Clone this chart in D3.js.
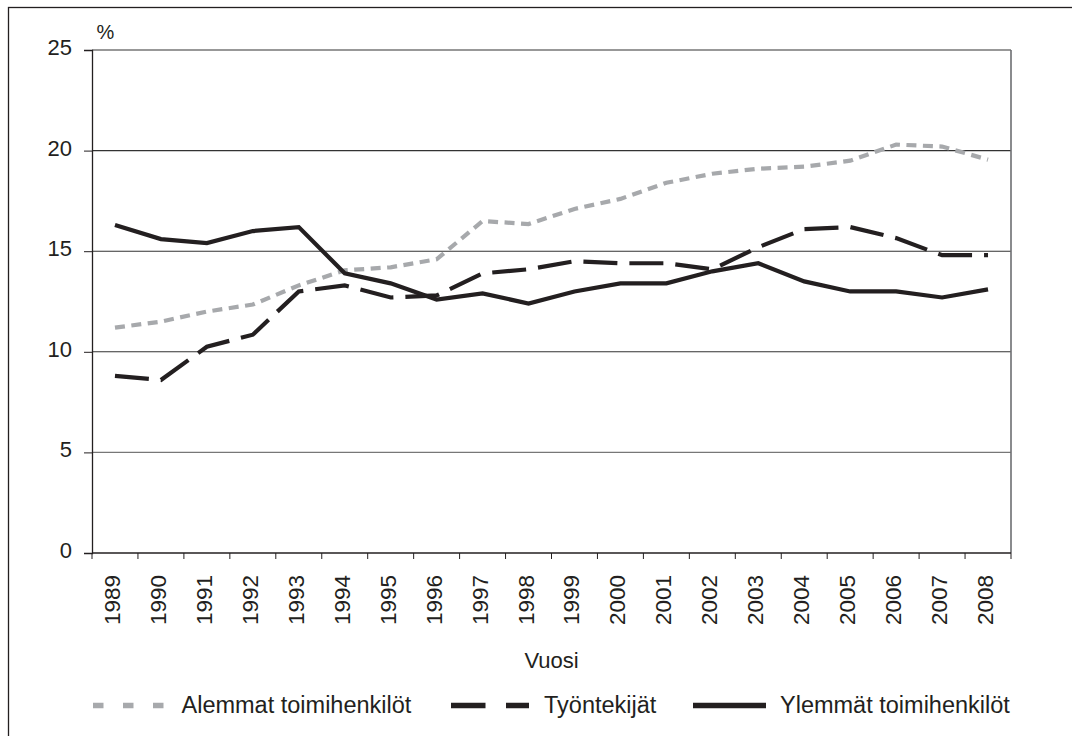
<!DOCTYPE html>
<html>
<head>
<meta charset="utf-8">
<script src="https://cdn.jsdelivr.net/npm/d3@7"></script>
<style>
  body { margin: 0; background: #fff; }
  text { font-family: "Liberation Sans", Arial, sans-serif; fill: #231f20; }
</style>
</head>
<body>
<svg id="chart" width="1072" height="736"></svg>
<script>
const years = ["1989","1990","1991","1992","1993","1994","1995","1996","1997","1998",
               "1999","2000","2001","2002","2003","2004","2005","2006","2007","2008"];
const alemmat = [11.2, 11.5, 12.0, 12.35, 13.3, 14.05, 14.2, 14.6, 16.5, 16.35,
                 17.1, 17.6, 18.4, 18.85, 19.1, 19.2, 19.5, 20.3, 20.2, 19.55];
const tyontekijat = [8.8, 8.6, 10.25, 10.85, 13.0, 13.3, 12.7, 12.8, 13.9, 14.1,
                     14.5, 14.4, 14.4, 14.1, 15.2, 16.1, 16.2, 15.65, 14.8, 14.8];
const ylemmat = [16.3, 15.6, 15.4, 16.0, 16.2, 13.9, 13.4, 12.6, 12.9, 12.4,
                 13.0, 13.4, 13.4, 14.0, 14.4, 13.5, 13.0, 13.0, 12.7, 13.1];
const yTicks = [0, 5, 10, 15, 20, 25];

const seriesNames = ["Alemmat toimihenkilöt", "Työntekijät", "Ylemmät toimihenkilöt"];

const margin = { left: 92, top: 50, right: 1011, bottom: 553 };

let svg = d3.select("#chart");

// outer frame (runs off the right and bottom edges)
svg.append("rect")
    .attr("x", 8.5).attr("y", 7.5)
    .attr("width", 1200).attr("height", 900)
    .attr("fill", "none").attr("stroke", "#231f20").attr("stroke-width", 1.3);

const x = d3.scaleBand().domain(years).range([margin.left, margin.right]);
const y = d3.scaleLinear().domain([0, 25]).range([margin.bottom, margin.top]);

// gridlines
svg.append("g")
    .selectAll("line")
    .data(yTicks.filter(d => d > 0))
    .join("line")
    .attr("x1", margin.left).attr("x2", margin.right)
    .attr("y1", d => y(d)).attr("y2", d => y(d))
    .attr("stroke", d => d == 5 ? "#777" : "#333")
    .attr("stroke-width", 1.1);

// right border of plot
svg.append("line")
    .attr("x1", margin.right).attr("x2", margin.right)
    .attr("y1", margin.top).attr("y2", margin.bottom)
    .attr("stroke", "#6d6e71").attr("stroke-width", 1.6);

// y axis
let yAxis = svg.append("g")
    .attr("transform", `translate(${margin.left},0)`)
    .call(d3.axisLeft(y).tickValues(yTicks).tickSize(8).tickPadding(12));
yAxis.select(".domain").attr("stroke", "#231f20").attr("stroke-width", 1.3);
yAxis.selectAll(".tick line").attr("stroke", "#231f20");
yAxis.selectAll("text")
    .attr("dy", "0.2em")
    .style("font-size", "22px")
    .style("font-family", "Liberation Sans, Arial, sans-serif")
    .attr("fill", "#231f20");

svg.append("text")
    .attr("x", 96.5).attr("y", 38.5)
    .style("font-size", "20px")
    .text("%");

// x axis: ticks at band boundaries
let xAxis = svg.append("g")
    .attr("transform", `translate(0,${margin.bottom})`);
xAxis.append("line")
    .attr("x1", margin.left).attr("x2", margin.right)
    .attr("stroke", "#231f20").attr("stroke-width", 1.3);
xAxis.selectAll(".tk")
    .data(years.concat(["end"]))
    .join("line")
    .attr("class", "tk")
    .attr("x1", (d, i) => margin.left + i * x.bandwidth())
    .attr("x2", (d, i) => margin.left + i * x.bandwidth())
    .attr("y1", 0).attr("y2", 6)
    .attr("stroke", "#231f20");
xAxis.selectAll(".lbl")
    .data(years)
    .join("text")
    .attr("class", "lbl")
    .attr("transform", d => `translate(${x(d) + x.bandwidth() / 2 + 5},22) rotate(-90)`)
    .attr("text-anchor", "end")
    .style("font-size", "22.5px")
    .text(d => d);

svg.append("text")
    .attr("x", (margin.left + margin.right) / 2).attr("y", 668)
    .attr("text-anchor", "middle")
    .style("font-size", "22px")
    .text("Vuosi");

// lines
const styles = [
    { data: alemmat, color: "#a7a9ac", dash: "10,6.5", width: 4.2 },
    { data: tyontekijat, color: "#231f20", dash: "34,12", width: 4.2 },
    { data: ylemmat, color: "#231f20", dash: null, width: 4.2 }
];

const line = d3.line()
    .x((d, i) => x(years[i]) + x.bandwidth() / 2)
    .y(d => y(d));

svg.append("g")
    .selectAll("path")
    .data(styles)
    .join("path")
    .attr("d", d => line(d.data))
    .attr("fill", "none")
    .attr("stroke", d => d.color)
    .attr("stroke-width", d => d.width)
    .attr("stroke-dasharray", d => d.dash)
    .attr("stroke-linejoin", "miter");

// legend
const legendItems = [
    { x1: 93, x2: 164, tx: 181.5 },
    { x1: 451, x2: 529, tx: 544 },
    { x1: 693, x2: 766, tx: 780 }
];
const legendDash = ["10.5,19.5", "34.5,20.5", null];
let legend = svg.append("g");
legendItems.forEach((it, i) => {
    legend.append("line")
        .attr("x1", it.x1).attr("x2", it.x2)
        .attr("y1", 705.5).attr("y2", 705.5)
        .attr("stroke", styles[i].color)
        .attr("stroke-width", 5.5)
        .attr("stroke-dasharray", legendDash[i]);
    legend.append("text")
        .attr("x", it.tx).attr("y", 713.3)
        .style("font-size", "23.5px")
        .text(seriesNames[i]);
});
</script>
</body>
</html>
